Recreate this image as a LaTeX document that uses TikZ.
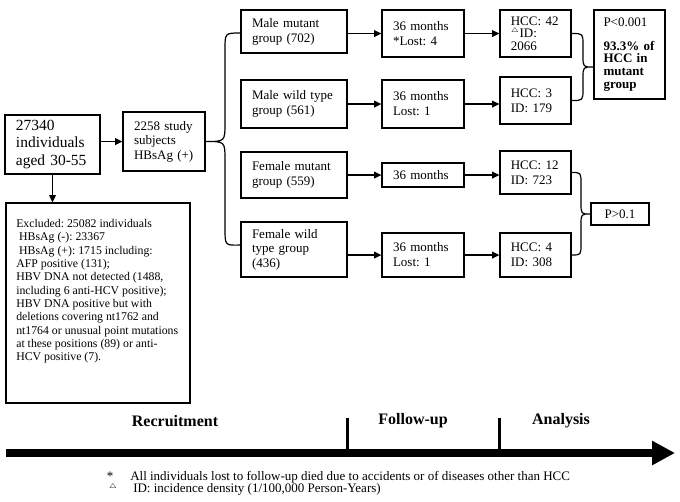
\documentclass[tikz,border=0pt]{standalone}
\usepackage{fontspec}
\setmainfont{Liberation Serif}
\usetikzlibrary{arrows.meta,calc}
\frenchspacing
\begin{document}
\frenchspacing
\begin{tikzpicture}[x=0.75pt,y=-0.75pt,
  box/.style={draw, line width=0.9pt, inner xsep=0pt, inner ysep=0pt, align=left,
    font=\fontsize{9.75pt}{11.3pt}\selectfont},
  grp/.style={box, minimum width=79.5pt, text width=63pt},
  mon/.style={box, minimum width=61.5pt, text width=45pt},
  hcc/.style={box, minimum width=53.25pt, text width=37pt},
  arr/.style={-{Triangle[length=5.5pt,width=5pt]}, line width=1.2pt},
  brace/.style={line width=0.9pt},
  phase/.style={font=\fontsize{12pt}{14pt}\selectfont\bfseries},
  fn/.style={inner sep=0pt, font=\fontsize{9.75pt}{10pt}\selectfont},
]
\useasboundingbox (0,0) rectangle (680,501);

% left part
\node[box, minimum width=71.25pt, minimum height=44.25pt, text width=54.75pt,
  font=\fontsize{11.6pt}{13.1pt}\selectfont] (pop) at (52.5,144.5) {27340\\individuals\\aged 30-55};
\node[box, minimum width=61.5pt, minimum height=44.25pt, text width=45pt,
  font=\fontsize{9.75pt}{10.9pt}\selectfont] (stu) at (164,141.5) {2258 study\\subjects\\HBsAg (+)};
\node[box, minimum width=138pt, minimum height=150pt] (exc) at (98,303) {};
\node[inner sep=0pt, anchor=north west, align=left,
  font=\fontsize{8.85pt}{10pt}\selectfont] (excT) at (16,219) {Excluded: 25082 individuals\\
\hspace*{0.25em}HBsAg (-): 23367\\
\hspace*{0.25em}HBsAg (+): 1715 including:\\
AFP positive (131);\\
HBV DNA not detected (1488,\\
including 6 anti-HCV positive);\\
HBV DNA positive but with\\
deletions covering nt1762 and\\
nt1764 or unusual point mutations\\
at these positions (89) or anti-\\
HCV positive (7).};

% groups
\node[grp, minimum height=32.25pt] (g1) at (294,31.5) {Male mutant\\group (702)};
\node[grp, minimum height=36pt] (g2) at (294,104) {Male wild type\\group (561)};
\node[grp, minimum height=34.5pt] (g3) at (294,175) {Female mutant\\group (559)};
\node[grp, minimum height=41.25pt, font=\fontsize{9.75pt}{10.8pt}\selectfont] (g4) at (294,249.5) {Female wild\\type group\\(436)};

% follow-up
\node[mon, minimum height=35.25pt] (m1) at (423,33.5) {36 months\\{}*Lost: 4};
\node[mon, minimum height=36pt] (m2) at (423,104) {36 months\\Lost: 1};
\node[mon, minimum height=18pt] (m3) at (423,175) {36 months};
\node[mon, minimum height=33pt] (m4) at (423,255) {36 months\\Lost: 1};

% outcomes
\node[hcc, minimum height=35.25pt, font=\fontsize{9.75pt}{9.4pt}\selectfont] (h1) at (535.5,33.5) {HCC: 42\\$^{\scriptscriptstyle\triangle}$ID:\\2066};
\node[hcc, minimum height=35.25pt] (h2) at (535.5,100.5) {HCC: 3\\ID: 179};
\node[hcc, minimum height=32.25pt] (h3) at (535.5,172.5) {HCC: 12\\ID: 723};
\node[hcc, minimum height=33pt] (h4) at (535.5,255) {HCC: 4\\ID: 308};

% p values
\node[box, minimum width=53.25pt, minimum height=66.75pt, text width=39pt,
  font=\fontsize{9.75pt}{9.5pt}\selectfont] (p1) at (629.5,54.5)
  {P<0.001\\[8pt]\textbf{93.3\% of}\\\textbf{HCC in}\\\textbf{mutant}\\\textbf{group}};
\node[box, minimum width=43.5pt, minimum height=16.5pt, align=center] (p2) at (620,214) {P>0.1};

% connectors
\draw[arr] (stu.west -| pop.east) -- (stu.west);
\draw[arr] (pop.south) -- (pop.south |- exc.north);
\foreach \i in {1,...,4}{
  \draw[arr] (m\i.west -| g\i.east) -- (m\i.west);
  \draw[arr] (m\i.east) -- (m\i.east -| h\i.west);
}

% braces
\draw[brace] ($(g1.west)+(0,1.5)$) .. controls (225,33) .. (225,49) -- (225,123)
  .. controls (225,141.5) .. (stu.east)
  .. controls (225,141.5) .. (225,160) -- (225,229)
  .. controls (225,245.5) .. ($(g4.west)+(0,-4.5)$);
\coordinate (t1) at (593,67);
\draw[brace] (h1.east) .. controls (583,33.5) .. (583,45) -- (583,56)
  .. controls (583,67) .. (t1)
  .. controls (583,67) .. (583,78) -- (583,89)
  .. controls (583,100.5) .. (h2.east);
\draw[brace] (h3.east) .. controls (581,172.5) .. (581,184) -- (581,203)
  .. controls (581,214) .. (p2.west)
  .. controls (581,214) .. (581,225) -- (581,244)
  .. controls (581,255) .. (h4.east);

% timeline
\coordinate (tlS) at (6,453);
\coordinate (tlE) at (675,453);
\draw[line width=6pt, -{Triangle[length=17.25pt,width=17.25pt]}] (tlS) -- (tlE);
\draw[line width=2.25pt] (347,418) -- (347,450);
\draw[line width=2.25pt] (499,418) -- (499,450);
\node[phase] (rec) at (175,421) {Recruitment};
\node[phase] (fol) at (413,421) {Follow-up};
\node[phase] (ana) at (561,421) {Analysis};

% footnotes
\node[fn] (st) at (110,476) {*};
\node[fn, anchor=west] (fn1) at (130,477) {All individuals lost to follow-up died due to accidents or of diseases other than HCC};
\node[fn] (tr) at (113,487) {$\scriptscriptstyle\triangle$};
\node[fn, anchor=west] (fn2) at (133,489) {ID: incidence density (1/100,000 Person-Years)};
\end{tikzpicture}
\end{document}
